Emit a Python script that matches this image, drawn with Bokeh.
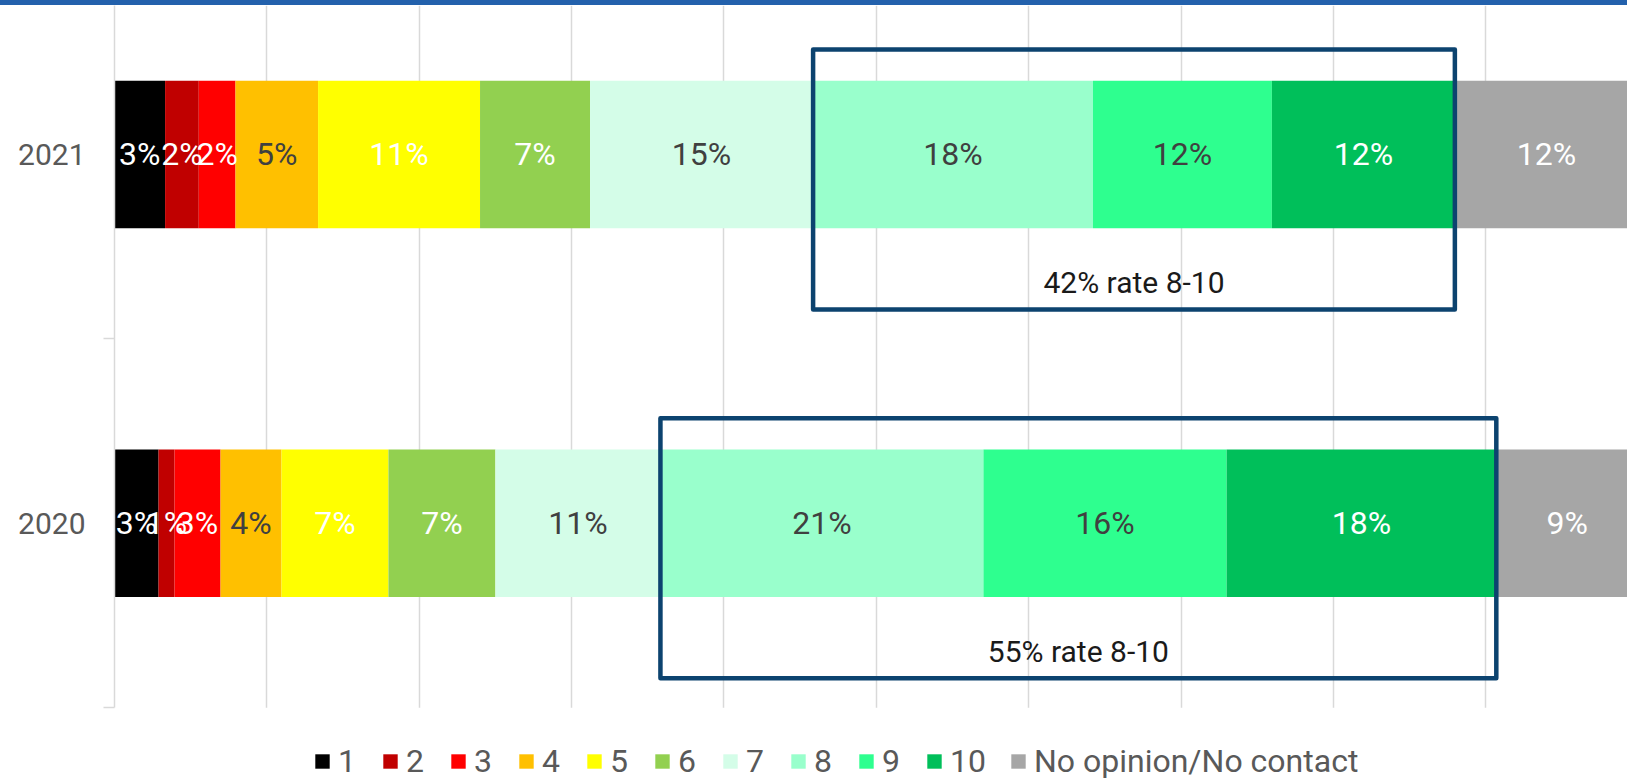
from bokeh.plotting import figure
from bokeh.models import (ColumnDataSource, Range1d, FixedTicker, Legend, LegendItem,
                          Div, BoxAnnotation)
from bokeh.layouts import column
from bokeh.core.properties import value
from bokeh.embed import file_html
from bokeh.resources import INLINE

# ---------------- data ----------------
years = ["2021", "2020"]
year_pos = [1.5, 0.5]
categories = ["1", "2", "3", "4", "5", "6", "7", "8", "9", "10", "No opinion/No contact"]
values_2021 = [3.32, 2.21, 2.41, 5.42, 10.63, 7.22, 14.64, 18.37, 11.74, 12.01, 12.03]
values_2020 = [2.89, 1.05, 3.02, 4.00, 7.02, 7.02, 10.83, 21.20, 15.96, 17.70, 9.31]
colors = ["#000000", "#C00000", "#FF0000", "#FFC000", "#FFFF00", "#92D050",
          "#D4FDE8", "#99FFCC", "#2EFF8F", "#00BF5A", "#A6A6A6"]
label_colors = ["#FFFFFF", "#FFFFFF", "#FFFFFF", "#404040", "#FFFFFF", "#FFFFFF",
                "#404040", "#404040", "#404040", "#FFFFFF", "#FFFFFF"]
highlight_first, highlight_last = 7, 9   # categories 8..10
grid_ticks = [0, 10, 20, 30, 40, 50, 60, 70, 80, 90]

series = [values_2021, values_2020]
FONT = "Roboto"

# ---------------- figure ----------------
W = 1627
H = 775
p = figure(width=W, height=H, output_backend="svg", toolbar_location=None,
           x_range=Range1d(0, 99.30), y_range=Range1d(-0.1974, 1.9040),
           min_border_left=114, min_border_right=0, min_border_top=0,
           min_border_bottom=0)
p.outline_line_color = None
p.background_fill_color = "white"
p.border_fill_color = "white"

keys = ["c%d" % i for i in range(len(categories))]
data = {"y": year_pos}
for i, k in enumerate(keys):
    data[k] = [s[i] for s in series]
src = ColumnDataSource(data)

renderers = p.hbar_stack(keys, y="y", height=0.4, fill_color=colors,
                         line_color=None, source=src)

# data labels
lx, ly, lt, lc = [], [], [], []
for s, yp in zip(series, year_pos):
    cum = 0.0
    for i, v in enumerate(s):
        lx.append(cum + v / 2)
        ly.append(yp)
        lt.append("%d%%" % round(v))
        lc.append(label_colors[i])
        cum += v
p.text(x=lx, y=ly, text=lt, text_color=lc, text_align="center",
       text_baseline="middle", text_font=value(FONT), text_font_size=value("32px"))

# highlight boxes for 8-10
bl, br, bt, bb, tx, ty, tt = [], [], [], [], [], [], []
for s, yp in zip(series, year_pos):
    left = sum(s[:highlight_first])
    right = sum(s[:highlight_last + 1])
    pct = round(sum(s[highlight_first:highlight_last + 1]))
    bl.append(left); br.append(right)
    bt.append(yp + 0.285); bb.append(yp - 0.42)
    tx.append((left + right) / 2); ty.append(yp - 0.348)
    tt.append("%d%% rate 8-10" % pct)
p.quad(left=bl, right=br, top=bt, bottom=bb, fill_color=None,
       line_color="#0C436F", line_width=4.5, line_join="round")
p.text(x=tx, y=ty, text=tt, text_color="#1A1A1A", text_align="center",
       text_baseline="middle", text_font=value(FONT), text_font_size=value("30px"))

# axes & grid
p.xaxis.visible = False
p.xgrid.ticker = FixedTicker(ticks=grid_ticks)
p.xgrid.grid_line_color = "#D9D9D9"
p.xgrid.grid_line_width = 1.5
p.ygrid.visible = False

# white band below the category axis (legend area): hides grid lines there
p.add_layout(BoxAnnotation(top=0, fill_color="white", fill_alpha=1.0,
                           line_color=None, level="underlay"))

yax = p.yaxis[0]
yax.bounds = (0, 2)
yax.ticker = FixedTicker(ticks=year_pos, minor_ticks=[0, 1, 2])
yax.major_label_overrides = {yp: yr for yp, yr in zip(year_pos, years)}
yax.major_tick_line_color = None
yax.major_tick_out = 0
yax.major_tick_in = 0
yax.minor_tick_line_color = "#D9D9D9"
yax.minor_tick_line_width = 1.5
yax.minor_tick_out = 11
yax.minor_tick_in = 0
yax.axis_line_color = "#D9D9D9"
yax.axis_line_width = 1.5
yax.major_label_standoff = 18
yax.major_label_text_font = FONT
yax.major_label_text_font_size = "30px"
yax.major_label_text_color = "#595959"

items = [LegendItem(label=c, renderers=[r]) for c, r in zip(categories, renderers)]
legend = Legend(items=items, orientation="horizontal", location=(199, 0),
                glyph_width=18, glyph_height=18, label_standoff=7, spacing=23,
                padding=0, margin=0, border_line_color=None,
                background_fill_alpha=0, label_text_font=FONT,
                label_text_font_size="32px", label_text_color="#595959",
                label_height=32)
p.add_layout(legend, "center")

bar = Div(width=W, height=5, margin=0, styles={"background-color": "#2361AC"})
layout = column(bar, p, spacing=0)

open("out.html", "w").write(file_html(layout, INLINE))
